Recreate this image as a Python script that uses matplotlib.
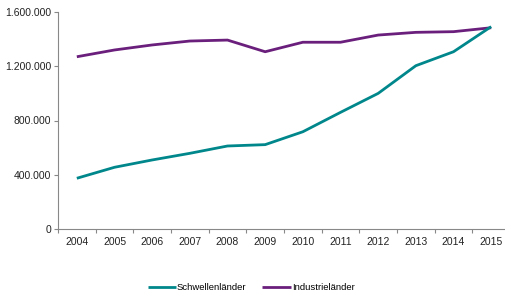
import matplotlib
matplotlib.use("Agg")
import matplotlib.pyplot as plt
from matplotlib.ticker import FuncFormatter, FixedLocator

years = ["2004", "2005", "2006", "2007", "2008", "2009", "2010", "2011", "2012", "2013", "2014", "2015"]
schwellen = [374000, 455000, 509000, 558000, 612000, 622000, 717000, 860000, 1000000, 1204000, 1307000, 1492000]
industrie = [1270000, 1320000, 1357000, 1386000, 1393000, 1307000, 1377000, 1377000, 1430000, 1450000, 1455000, 1484000]

plt.rcParams['font.family'] = ['Liberation Sans', 'DejaVu Sans']

fig = plt.figure(figsize=(5.05, 2.97), dpi=100)
W, H = 505, 297
ax = fig.add_axes([58 / W, 68 / H, (510 - 58) / W, (229 - 12) / H])

x = list(range(len(years)))
ax.plot(x, schwellen, color="#00878C", lw=2.0, label="Schwellenländer", solid_capstyle="butt", zorder=3)
ax.plot(x, industrie, color="#6B1F7C", lw=2.0, label="Industrieländer", solid_capstyle="butt", zorder=2)

ax.set_xlim(-0.5, len(years) - 0.5)
ax.set_ylim(0, 1600000)
ax.set_yticks([0, 400000, 800000, 1200000, 1600000])
ax.yaxis.set_major_formatter(FuncFormatter(lambda v, p: f"{int(v):,}".replace(",", ".")))

ax.set_xticks(x)
ax.set_xticklabels(years)
ax.xaxis.set_minor_locator(FixedLocator([i - 0.5 for i in range(len(years) + 1)]))
ax.tick_params(axis="x", which="major", length=0, pad=6, labelsize=7.5, colors="#222222")
ax.tick_params(axis="x", which="minor", length=3, color="#888888", width=0.8)
ax.tick_params(axis="y", length=3, color="#888888", width=0.8, labelsize=7.5, pad=2, colors="#222222")
ax.tick_params(axis="y", colors="#888888", labelcolor="#222222")

for s in ["top", "right"]:
    ax.spines[s].set_visible(False)
for s in ["left", "bottom"]:
    ax.spines[s].set_color("#888888")
    ax.spines[s].set_linewidth(0.8)

fig.legend(loc="center", bbox_to_anchor=(251 / W, 1 - 288 / H), ncol=2, frameon=False,
           fontsize=6.8, handlelength=3.0, handletextpad=0.1, columnspacing=1.7)

fig.savefig("out.png", dpi=100)
